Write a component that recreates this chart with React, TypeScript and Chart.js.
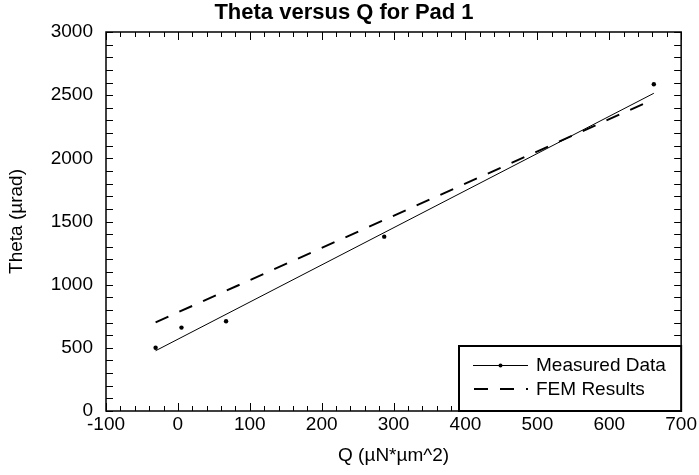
import React, { useEffect, useRef } from "react";
import { Chart, registerables } from "chart.js";

Chart.register(...registerables);

const measuredQ = [-31, 5, 67, 287, 662];
const measuredTheta = [501, 660, 710, 1380, 2587];
const fitQ = [-31, 662];
const fitTheta = [477, 2515];
const femQ = [-31, 662];
const femTheta = [702, 2468];

const xTicks = [-100, 0, 100, 200, 300, 400, 500, 600, 700];
const yTicks = [0, 500, 1000, 1500, 2000, 2500, 3000];

const titleText = "Theta versus Q for Pad 1";
const xTitle = "Q (\u00b5N*\u00b5m^2)";
const yTitle = "Theta (\u00b5rad)";
const legendLabels = ["Measured Data", "FEM Results"];

const FONT = "'Liberation Sans', Arial, Helvetica, sans-serif";

const framePlugin = {
  id: "frame",
  afterDraw(chart: any) {
    const { ctx, chartArea: a, scales } = chart;
    const xs = scales.x;
    const ys = scales.y;
    ctx.save();
    ctx.strokeStyle = "#000";
    ctx.lineWidth = 1;
    for (let v = -100; v <= 700; v += 20) {
      const major = v % 100 === 0;
      const len = major ? 8 : 5;
      const px = Math.round(xs.getPixelForValue(v)) + 0.5;
      ctx.beginPath();
      ctx.moveTo(px, a.bottom);
      ctx.lineTo(px, a.bottom - len);
      ctx.moveTo(px, a.top);
      ctx.lineTo(px, a.top + len);
      ctx.stroke();
    }
    for (let v = 0; v <= 3000; v += 100) {
      const len = 7;
      const py = Math.round(ys.getPixelForValue(v)) + 0.5;
      ctx.beginPath();
      ctx.moveTo(a.left, py);
      ctx.lineTo(a.left + len, py);
      ctx.moveTo(a.right, py);
      ctx.lineTo(a.right - len, py);
      ctx.stroke();
    }
    ctx.lineWidth = 1.5;
    ctx.strokeRect(a.left, a.top, a.right - a.left, a.bottom - a.top);

    ctx.fillStyle = "#000";
    ctx.font = "bold 22px " + FONT;
    ctx.textAlign = "center";
    ctx.textBaseline = "alphabetic";
    ctx.fillText(titleText, 344, 19);

    const bx = 459, by = 346, bw = a.right - bx, bh = a.bottom - by;
    ctx.fillStyle = "#fff";
    ctx.fillRect(bx, by, bw, bh);
    ctx.lineWidth = 2;
    ctx.strokeStyle = "#000";
    ctx.strokeRect(bx, by, bw, bh);
    ctx.font = "19px " + FONT;
    ctx.textAlign = "left";
    ctx.textBaseline = "middle";
    ctx.fillStyle = "#000";
    const y1 = by + 19, y2 = by + 43;
    ctx.lineWidth = 1;
    ctx.beginPath();
    ctx.moveTo(473, y1 + 0.5);
    ctx.lineTo(528, y1 + 0.5);
    ctx.stroke();
    ctx.beginPath();
    ctx.arc(500.5, y1 + 0.5, 2, 0, Math.PI * 2);
    ctx.fill();
    ctx.lineWidth = 2;
    ctx.setLineDash([14, 12]);
    ctx.beginPath();
    ctx.moveTo(474, y2);
    ctx.lineTo(528, y2);
    ctx.stroke();
    ctx.setLineDash([]);
    ctx.fillText(legendLabels[0], 536, y1 + 1);
    ctx.fillText(legendLabels[1], 536, y2 + 1);
    ctx.restore();
  },
};

export default function App() {
  const ref = useRef<HTMLCanvasElement | null>(null);
  useEffect(() => {
    if (!ref.current) return;
    const chart = new Chart(ref.current, {
      type: "scatter",
      data: {
        datasets: [
          {
            label: "fit",
            data: fitQ.map((q, i) => ({ x: q, y: fitTheta[i] })),
            showLine: true,
            borderColor: "#000",
            borderWidth: 1,
            pointRadius: 0,
          },
          {
            label: legendLabels[1],
            data: femQ.map((q, i) => ({ x: q, y: femTheta[i] })),
            showLine: true,
            borderColor: "#000",
            borderWidth: 2,
            borderDash: [14, 12],
            pointRadius: 0,
          },
          {
            label: legendLabels[0],
            data: measuredQ.map((q, i) => ({ x: q, y: measuredTheta[i] })),
            showLine: false,
            backgroundColor: "#000",
            borderColor: "#000",
            pointRadius: 2.2,
            borderWidth: 0,
          },
        ],
      },
      options: {
        animation: false,
        responsive: false,
        layout: { padding: { top: 32, right: 16, left: 0, bottom: 0 } },
        plugins: { legend: { display: false }, tooltip: { enabled: false }, title: { display: false } },
        scales: {
          x: {
            type: "linear",
            min: -100,
            max: 700,
            afterFit: (s: any) => { s.height = 64; },
            afterBuildTicks: (s: any) => { s.ticks = xTicks.map((v) => ({ value: v })); },
            grid: { display: false, drawTicks: false },
            border: { display: false },
            ticks: { color: "#000", font: { family: FONT, size: 19 }, padding: 2, maxRotation: 0, autoSkip: false, callback: (v: any) => String(v) },
            title: { display: true, text: xTitle, color: "#000", font: { family: FONT, size: 19 }, padding: { bottom: 8 } },
          },
          y: {
            type: "linear",
            min: 0,
            max: 3000,
            afterFit: (s: any) => { s.width = 106; },
            afterBuildTicks: (s: any) => { s.ticks = yTicks.map((v) => ({ value: v })); },
            grid: { display: false, drawTicks: false },
            border: { display: false },
            ticks: { color: "#000", font: { family: FONT, size: 19 }, padding: 13, autoSkip: false, callback: (v: any) => String(v) },
            title: { display: true, text: yTitle, color: "#000", font: { family: FONT, size: 19 }, padding: { top: 5 } },
          },
        },
      },
      plugins: [framePlugin],
    });
    return () => chart.destroy();
  }, []);
  return (
    <div style={{ position: "absolute", left: 0, top: 0, width: 699, height: 475, background: "#fff" }}>
      <canvas ref={ref} width={699} height={475} style={{ display: "block", width: 699, height: 475 }} />
    </div>
  );
}
